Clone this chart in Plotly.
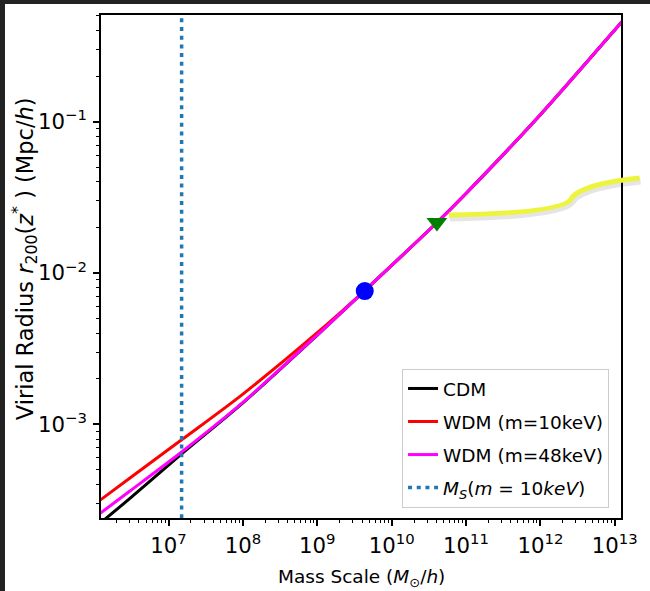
import plotly.graph_objects as go

# ---------------- data ----------------
mass = [1.0e6, 3.0e6, 1.5e7, 1.0e8, 1.0e9, 4.25e9, 1.0e10, 4.1e10, 1.0e11, 1.0e12, 1.0e13, 1.5e13]
r_cdm = [2.06e-4, 3.23e-4, 6.38e-4, 1.387e-3, 3.89e-3, 7.57e-3, 1.122e-2, 2.163e-2, 3.357e-2, 0.1112, 0.4036, 0.509]
r_wdm10 = [2.95e-4, 4.40e-4, 7.9e-4, 1.585e-3, 4.03e-3, 7.57e-3, 1.122e-2, 2.163e-2, 3.357e-2, 0.1112, 0.4036, 0.509]
r_wdm48 = [2.41e-4, 3.61e-4, 6.56e-4, 1.396e-3, 3.89e-3, 7.57e-3, 1.122e-2, 2.163e-2, 3.357e-2, 0.1112, 0.4036, 0.509]

ms_10kev = 1.5e7            # free-streaming mass scale, m = 10 keV
dot_point = (4.35e9, 7.6e-3)
tri_point = (4.06e10, 2.16e-2)

x_range_log = [6.092, 13.084]
y_range_log = [-3.619, -0.295]

FONT = "DejaVu Sans"

fig = go.Figure()
fig.add_trace(go.Scatter(x=mass, y=r_cdm, mode="lines", name="CDM", legendgroup="a",
                         line=dict(color="black", width=3, shape="spline", smoothing=0.8)))
fig.add_trace(go.Scatter(x=mass, y=r_wdm10, mode="lines", name="WDM (m=10keV)", legendgroup="b",
                         line=dict(color="#ff0000", width=3, shape="spline", smoothing=0.8)))
fig.add_trace(go.Scatter(x=mass, y=r_wdm48, mode="lines", name="WDM (m=48keV)", legendgroup="c",
                         line=dict(color="#ff00ff", width=3, shape="spline", smoothing=0.8)))
fig.add_trace(go.Scatter(x=[ms_10kev, ms_10kev], y=[1e-5, 10], mode="lines",
                         name="<i>M<sub>S</sub></i>(<i>m</i> = 10<i>keV</i>)", legendgroup="d",
                         line=dict(color="#1f77b4", width=3.5, dash="4px,4.7px")))
fig.add_trace(go.Scatter(x=[dot_point[0]], y=[dot_point[1]], mode="markers", showlegend=False,
                         marker=dict(symbol="circle", size=18, color="#0000ff")))
fig.add_trace(go.Scatter(x=[tri_point[0]], y=[tri_point[1]], mode="markers", showlegend=False,
                         marker=dict(symbol="triangle-down", size=18, color="#008000")))

W, H = 650, 591
L, R, T, B = 101, 17, 15, 73
pw, ph = W - L - R, H - T - B


def px(x):
    return (x - L) / pw


def py(y):
    return (H - B - y) / ph


# highlighter annotation stroke (yellow) with soft shadow
pts = [(457, 215), (520, 214), (575, 210), (582, 199), (588, 188), (620, 181), (652, 178)]


def path_for(dx=0, dy=0):
    p = [(px(x + dx), py(y + dy)) for x, y in pts]
    s = "M %f,%f" % p[0]
    s += " C %f,%f %f,%f %f,%f" % (p[1] + p[2] + p[3])
    s += " C %f,%f %f,%f %f,%f" % (p[4] + p[5] + p[6])
    return s


shapes = [
    dict(type="path", xref="paper", yref="paper", path=path_for(1, 3),
         line=dict(color="rgba(0,0,0,0.10)", width=7), layer="above"),
    dict(type="path", xref="paper", yref="paper", path=path_for(),
         line=dict(color="#ecf53c", width=5), layer="above"),
]

axis_common = dict(
    type="log", showgrid=False, zeroline=False, showline=True, linecolor="black", linewidth=1.5,
    mirror=True, ticks="outside", ticklen=6, tickwidth=1.5, tickcolor="black",
    dtick=1, exponentformat="power", tickfont=dict(family=FONT, size=17, color="black"),
    ticklabeloverflow="allow",
    minor=dict(ticks="outside", ticklen=3.5, tickwidth=1, tickcolor="black", showgrid=False),
)

annotations = [
    dict(text="Virial Radius <i>r</i><sub>200</sub>(<i>z</i><sup>*</sup> ) (Mpc/<i>h</i>)",
         xref="paper", yref="paper", x=px(23), y=py(258.5), xanchor="center", yanchor="middle",
         textangle=-90, showarrow=False, font=dict(family=FONT, size=22.5, color="black")),
    dict(text="Mass Scale (<i>M</i><sub>⊙</sub>/<i>h</i>)",
         xref="paper", yref="paper", x=px(367), y=py(578), xanchor="center", yanchor="middle",
         showarrow=False, font=dict(family=FONT, size=18.5, color="black")),
]

fig.update_layout(
    width=W, height=H,
    margin=dict(l=L, r=R, t=T, b=B),
    paper_bgcolor="white", plot_bgcolor="white",
    font=dict(family=FONT, color="black"),
    xaxis=dict(axis_common, range=x_range_log, ticklabelstandoff=3),
    yaxis=dict(axis_common, range=y_range_log, ticklabelstandoff=3),
    legend=dict(x=0.977, y=0.02, xanchor="right", yanchor="bottom",
                bgcolor="rgba(255,255,255,0.9)", bordercolor="#cccccc", borderwidth=1,
                font=dict(family=FONT, size=18.5, color="black"), tracegroupgap=6),
    shapes=shapes,
    annotations=annotations,
    showlegend=True,
)

frame_js = (
    "document.body.style.margin='0';document.body.style.overflow='hidden';"
    "var f1=document.createElement('div');f1.style.cssText='position:fixed;left:0;top:0;width:5px;height:100%;background:#222;z-index:9';"
    "var f2=document.createElement('div');f2.style.cssText='position:fixed;left:0;top:0;width:100%;height:4px;background:#222;z-index:9';"
    "document.body.appendChild(f1);document.body.appendChild(f2);"
)

fig.write_html("out.html", config={"displayModeBar": False}, post_script=frame_js)
